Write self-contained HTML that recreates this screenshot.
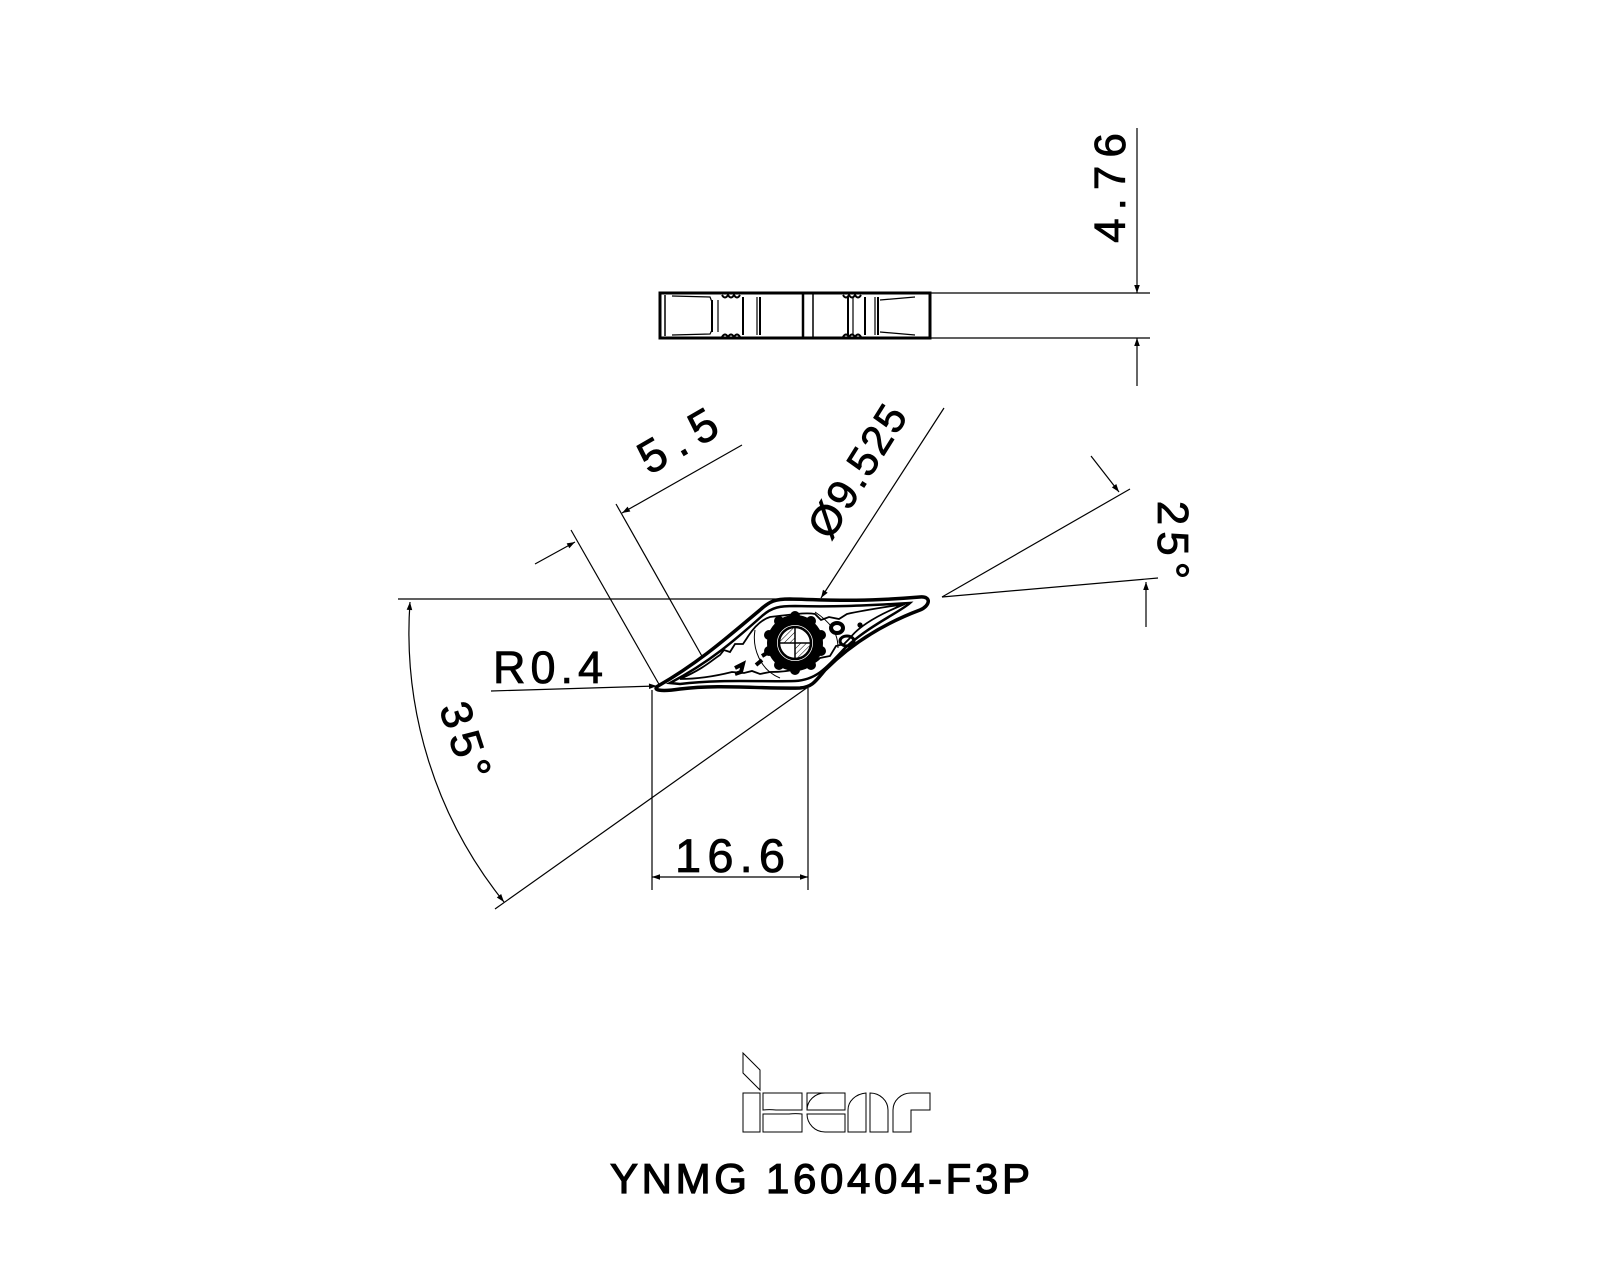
<!DOCTYPE html>
<html><head><meta charset="utf-8"><style>
html,body{margin:0;padding:0;background:#fff}
svg{display:block}
text{font-family:"Liberation Sans",sans-serif;fill:#000;stroke:#000;stroke-width:0.8}
</style></head><body>
<svg width="1600" height="1280" viewBox="0 0 1600 1280" xmlns="http://www.w3.org/2000/svg">
<defs>
<marker id="a" viewBox="0 0 10 10" refX="10" refY="5" markerWidth="14" markerHeight="8" markerUnits="userSpaceOnUse" orient="auto-start-reverse"><path d="M0,1.5 L10,5 L0,8.5 Z" fill="#000"/></marker>
<pattern id="h" width="4" height="4" patternUnits="userSpaceOnUse" patternTransform="rotate(45)"><line x1="0" y1="0" x2="0" y2="4" stroke="#000" stroke-width="1"/></pattern>
</defs>
<g stroke="#000" fill="none" stroke-width="1.2">
<!-- side view -->
<rect x="660" y="293" width="270" height="45" stroke-width="3"/>
<line x1="665" y1="295" x2="665" y2="336" stroke-width="1.5"/>
<path d="M672,296 L710,297 L712,302 M672,335 L710,334 L712,330" />
<line x1="712" y1="300" x2="712" y2="332" stroke-width="2"/><line x1="718" y1="300" x2="718" y2="332"/>
<path d="M722,295 q3,5 6,0 q3,5 6,0 q3,5 6,0 M722,337 q3,-5 6,0 q3,-5 6,0 q3,-5 6,0" stroke-width="2"/>
<line x1="743" y1="297" x2="743" y2="335" stroke-width="2"/><line x1="757" y1="297" x2="757" y2="335"/><line x1="760" y1="297" x2="760" y2="335" stroke-width="2"/>
<line x1="803" y1="293" x2="803" y2="338" stroke-width="2.5"/><line x1="813" y1="293" x2="813" y2="338" stroke-width="1.5"/>
<path d="M843,295 q3,5 6,0 q3,5 6,0 q3,5 6,0 M843,337 q3,-5 6,0 q3,-5 6,0 q3,-5 6,0" stroke-width="2"/>
<line x1="848" y1="297" x2="848" y2="335" stroke-width="2"/><line x1="853" y1="297" x2="853" y2="335"/><line x1="865" y1="297" x2="865" y2="335" stroke-width="2"/><line x1="875" y1="297" x2="875" y2="335"/><line x1="878" y1="297" x2="878" y2="335" stroke-width="2"/>
<path d="M880,300 L915,297 M880,332 L915,335"/>
<!-- 4.76 dim -->
<line x1="930" y1="293" x2="1150" y2="293"/><line x1="930" y1="338" x2="1150" y2="338"/>
<line x1="1137" y1="128" x2="1137" y2="293" marker-end="url(#a)"/>
<line x1="1137" y1="386" x2="1137" y2="338" marker-end="url(#a)"/>
<!-- insert top view outer -->
<path d="M658,686 C700,662 730,635 760,610 C770,601 775,599 790,599 C830,600 860,602 920,597 C932,596 930,606 920,610 C880,625 850,645 825,670 C815,682 812,687 800,688 C760,689 720,684 680,689 C660,692 652,690 658,686 Z" stroke-width="3.5"/>
<path d="M670,683 C710,662 735,640 762,616 C772,607 780,606 795,606 C830,607 860,606 910,603 C900,612 870,625 845,648 C825,670 815,680 795,681 C760,682 720,679 680,684 Z" stroke-width="2.5"/>
<path d="M680,679 C705,668 712,660 720,655 l4,-5 l6,2 l5,-8 l8,0 l4,-6 C752,630 760,620 770,617 C790,615 805,612 815,614 l6,6 l8,-3 l10,2 l8,-5 C865,610 880,608 905,604 C880,614 860,625 850,638 l-6,6 l-8,2 l-6,10 l-10,2 C810,668 790,672 770,672 l-10,2 l-8,-3 l-8,2 l-12,-1 C720,675 700,679 680,679 Z" stroke-width="1.8"/>
<path d="M755,630 C752,648 760,670 780,678 M815,612 C830,622 838,632 838,648" stroke-width="1"/>
<!-- gear -->
<g transform="translate(795,643)">
<circle r="23" stroke-width="10"/>
<circle cx="0" cy="-27" r="5" fill="#000" stroke="none"/><circle cx="16" cy="-22" r="5" fill="#000" stroke="none"/><circle cx="26" cy="-8" r="5" fill="#000" stroke="none"/><circle cx="26" cy="8" r="5" fill="#000" stroke="none"/><circle cx="16" cy="22" r="5" fill="#000" stroke="none"/><circle cx="0" cy="27" r="5" fill="#000" stroke="none"/><circle cx="-16" cy="22" r="5" fill="#000" stroke="none"/><circle cx="-26" cy="8" r="5" fill="#000" stroke="none"/><circle cx="-26" cy="-8" r="5" fill="#000" stroke="none"/><circle cx="-16" cy="-22" r="5" fill="#000" stroke="none"/>
<circle r="16" fill="#fff" stroke-width="2.5"/>
<path d="M-15,0 L0,0 L0,-15 A15,15 0 0,0 -15,0 Z" fill="url(#h)" stroke="none"/>
<path d="M15,0 L0,0 L0,15 A15,15 0 0,0 15,0 Z" fill="url(#h)" stroke="none"/>
<line x1="-16" y1="0" x2="16" y2="0" stroke-width="1.5"/><line x1="0" y1="-16" x2="0" y2="16" stroke-width="1.5"/>
</g>
<ellipse cx="837" cy="628" rx="6" ry="5" stroke-width="4"/><ellipse cx="847" cy="641" rx="7" ry="5" stroke-width="3"/><circle cx="860" cy="625" r="2" fill="#000"/>
<path d="M762,656 l5,-3 M756,665 l6,-5 M735,668 l8,-4 l-2,8 l-6,2" stroke-width="4"/>
<!-- horizontal ref line -->
<line x1="398" y1="599" x2="790" y2="599"/>
<!-- 35 deg -->
<line x1="808" y1="687" x2="495" y2="909"/>
<path d="M410,602 A430,430 0 0,0 504,902" marker-start="url(#a)" marker-end="url(#a)"/>
<!-- R0.4 -->
<line x1="491" y1="691" x2="657" y2="686" marker-end="url(#a)"/>
<!-- 5.5 -->
<line x1="571" y1="530" x2="660" y2="686"/>
<line x1="616" y1="504" x2="703" y2="658"/>
<line x1="535" y1="564" x2="575" y2="542" marker-end="url(#a)"/>
<line x1="742" y1="445" x2="622" y2="513" marker-end="url(#a)"/>
<!-- diameter -->
<line x1="944" y1="408" x2="821" y2="598" marker-end="url(#a)"/>
<!-- 25 deg -->
<line x1="942" y1="597" x2="1130" y2="489"/>
<line x1="942" y1="597" x2="1158" y2="578"/>
<line x1="1091" y1="456" x2="1119" y2="492" marker-end="url(#a)"/>
<line x1="1146" y1="627" x2="1146" y2="582" marker-end="url(#a)"/>
<!-- 16.6 -->
<line x1="652" y1="690" x2="652" y2="890"/><line x1="808" y1="688" x2="808" y2="890"/>
<line x1="730" y1="877" x2="652" y2="877" marker-end="url(#a)"/>
<line x1="730" y1="877" x2="808" y2="877" marker-end="url(#a)"/>
<!-- logo -->
<g stroke-width="1">
<path d="M743,1053 L760,1070 L760,1090 L743,1073 Z"/>
<rect x="743" y="1093" width="17" height="39"/>
<path d="M763,1093 H802 V1110 H776 A13,3 0 0,0 763,1110 Z M763,1114 H789 A13,3 0 0,1 802,1114 V1132 H763 Z"/>
<path d="M807,1093 H845 V1110 H807 Z M807,1114 H845 V1132 H825 A18,18 0 0,1 807,1114 Z M825,1093 A18,17 0 0,0 807,1110"/>
<path d="M848,1132 V1110 A20,17 0 0,1 866,1093 V1132 Z M870,1132 V1093 A18,17 0 0,1 888,1110 V1132 Z"/>
<path d="M893,1132 V1110 A18,17 0 0,1 911,1093 H930 V1110 H911 V1132 Z"/>
</g>
</g>
<!-- texts -->
<text x="1133" y="184" font-size="44" text-anchor="middle" transform="rotate(-90 1133 184)" dy="-8" letter-spacing="8">4.76</text>
<text x="690" y="452" font-size="46" text-anchor="middle" transform="rotate(-30 690 452)" letter-spacing="10">5.5</text>
<text x="870" y="478" font-size="42" text-anchor="middle" transform="rotate(-58 870 478)" letter-spacing="2">Ø9.525</text>
<text x="1158" y="543" font-size="44" text-anchor="middle" transform="rotate(90 1158 543)" letter-spacing="6">25°</text>
<text x="452" y="748" font-size="44" text-anchor="middle" transform="rotate(72 452 748)" letter-spacing="6">35°</text>
<text x="493" y="683" font-size="45" textLength="110" lengthAdjust="spacing">R0.4</text>
<text x="675" y="872" font-size="47" textLength="110" lengthAdjust="spacing">16.6</text>
<text x="610" y="1193" font-size="42" textLength="420" lengthAdjust="spacing" style="stroke-width:1.2">YNMG  160404-F3P</text>
</svg>
</body></html>
